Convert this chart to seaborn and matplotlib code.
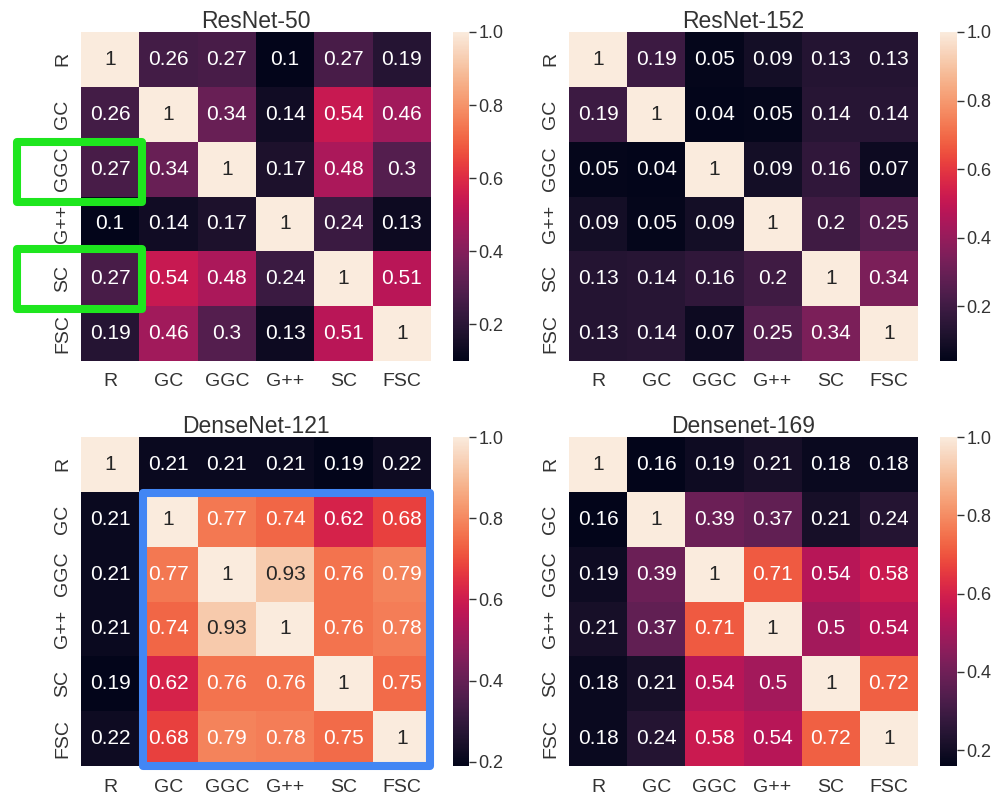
import numpy as np
import pandas as pd
import matplotlib
matplotlib.use("Agg")
import matplotlib.pyplot as plt
from matplotlib.patches import Rectangle
import seaborn as sns

labels = ["R", "GC", "GGC", "G++", "SC", "FSC"]
titles = ["ResNet-50", "ResNet-152", "DenseNet-121", "Densenet-169"]

resnet50 = [
    [1, 0.26, 0.27, 0.1, 0.27, 0.19],
    [0.26, 1, 0.34, 0.14, 0.54, 0.46],
    [0.27, 0.34, 1, 0.17, 0.48, 0.3],
    [0.1, 0.14, 0.17, 1, 0.24, 0.13],
    [0.27, 0.54, 0.48, 0.24, 1, 0.51],
    [0.19, 0.46, 0.3, 0.13, 0.51, 1],
]
resnet152 = [
    [1, 0.19, 0.05, 0.09, 0.13, 0.13],
    [0.19, 1, 0.04, 0.05, 0.14, 0.14],
    [0.05, 0.04, 1, 0.09, 0.16, 0.07],
    [0.09, 0.05, 0.09, 1, 0.2, 0.25],
    [0.13, 0.14, 0.16, 0.2, 1, 0.34],
    [0.13, 0.14, 0.07, 0.25, 0.34, 1],
]
densenet121 = [
    [1, 0.21, 0.21, 0.21, 0.19, 0.22],
    [0.21, 1, 0.77, 0.74, 0.62, 0.68],
    [0.21, 0.77, 1, 0.93, 0.76, 0.79],
    [0.21, 0.74, 0.93, 1, 0.76, 0.78],
    [0.19, 0.62, 0.76, 0.76, 1, 0.75],
    [0.22, 0.68, 0.79, 0.78, 0.75, 1],
]
densenet169 = [
    [1, 0.16, 0.19, 0.21, 0.18, 0.18],
    [0.16, 1, 0.39, 0.37, 0.21, 0.24],
    [0.19, 0.39, 1, 0.71, 0.54, 0.58],
    [0.21, 0.37, 0.71, 1, 0.5, 0.54],
    [0.18, 0.21, 0.54, 0.5, 1, 0.72],
    [0.18, 0.24, 0.58, 0.54, 0.72, 1],
]

sns.set_theme(style="white")
plt.rcParams["font.family"] = ["Liberation Sans", "DejaVu Sans"]
plt.rcParams["text.color"] = "#333333"
plt.rcParams["xtick.color"] = "#333333"
plt.rcParams["ytick.color"] = "#333333"

fig = plt.figure(figsize=(9.96, 7.95), dpi=100)
W, H = 996, 795

def fr(x0, y0, x1, y1):
    return [x0 / W, 1 - y1 / H, (x1 - x0) / W, (y1 - y0) / H]

boxes = [
    (fr(81, 32, 431, 361), fr(453, 32, 469, 361)),
    (fr(569, 32, 918, 361), fr(940, 32, 957, 361)),
    (fr(81, 437, 431, 766), fr(453, 437, 469, 766)),
    (fr(569, 437, 918, 766), fr(940, 437, 957, 766)),
]
mats = [resnet50, resnet152, densenet121, densenet169]

axes = []
for (hb, cb), m, t in zip(boxes, mats, titles):
    ax = fig.add_axes(hb)
    cax = fig.add_axes(cb)
    df = pd.DataFrame(m, index=labels, columns=labels)
    sns.heatmap(df, ax=ax, cbar_ax=cax, annot=True, annot_kws={"size": 15})
    ax.set_title(t, fontsize=16.5, pad=3)
    ax.tick_params(axis="x", labelsize=14, pad=3, rotation=0)
    ax.tick_params(axis="y", labelsize=14, pad=1, rotation=90)
    for lab in ax.get_yticklabels():
        lab.set_va("center")
    cax.tick_params(labelsize=13, length=5, width=1, color="#333333", pad=2)
    cax.yaxis.set_major_locator(matplotlib.ticker.MultipleLocator(0.2))
    cax.yaxis.set_major_formatter(matplotlib.ticker.FormatStrFormatter("%.1f"))
    axes.append(ax)

green = "#1ee61e"
for (y0, y1) in [(2.0, 3.1), (3.95, 5.05)]:
    axes[0].add_patch(Rectangle((-1.09, y0), 1.05 + 1.09, y1 - y0, fill=False,
                                edgecolor=green, linewidth=5.8, clip_on=False,
                                joinstyle="round", zorder=5))
axes[2].add_patch(Rectangle((1.07, 1.02), 5.99 - 1.07, 6.0 - 1.02, fill=False,
                            edgecolor="#4286f4", linewidth=5.8, clip_on=False,
                            joinstyle="round", zorder=5))

fig.savefig("out.png", dpi=100)
